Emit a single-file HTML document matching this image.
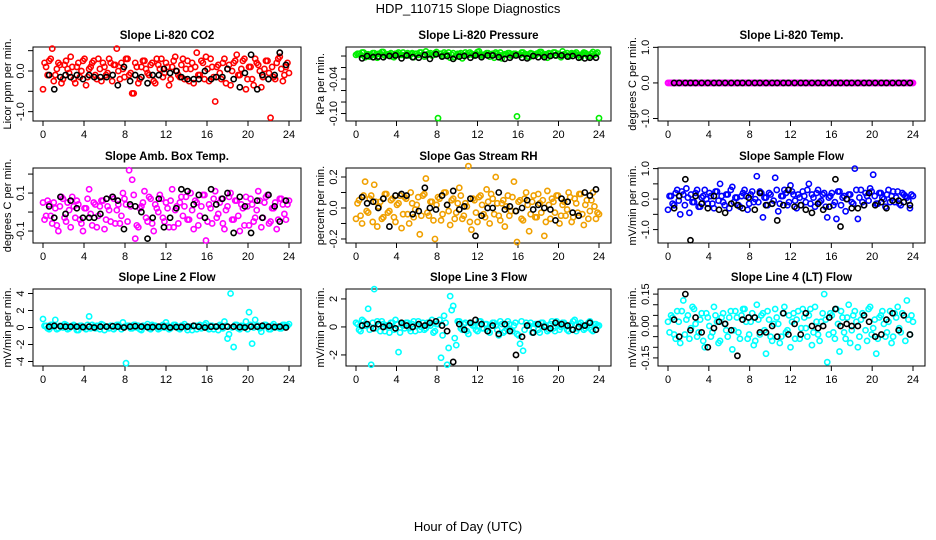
<!DOCTYPE html>
<html><head><meta charset="utf-8">
<style>
html,body{margin:0;padding:0;background:#fff;}
svg{display:block;font-family:"Liberation Sans",Arial,sans-serif;}
</style></head>
<body>
<svg id="chart" width="936" height="540" viewBox="0 0 936 540">
<text x="468" y="13" text-anchor="middle" font-size="13">HDP_110715  Slope Diagnostics</text>
<text x="468" y="531" text-anchor="middle" font-size="13">Hour of Day (UTC)</text>
<g id="panels"></g>
</svg>
<script>
const hoursC=[0,.3,.6,.9,1.2,1.5,1.8,2.1,2.4,2.7,3,3.3,3.6,3.9,4.2,4.5,4.8,5.1,5.4,5.7,6,6.3,6.6,6.9,7.2,7.5,7.8,8.1,8.4,8.7,9,9.3,9.6,9.9,10.2,10.5,10.8,11.1,11.4,11.7,12,12.3,12.6,12.9,13.2,13.5,13.8,14.1,14.4,14.7,15,15.3,15.6,15.9,16.2,16.5,16.8,17.1,17.4,17.7,18,18.3,18.6,18.9,19.2,19.5,19.8,20.1,20.4,20.7,21,21.3,21.6,21.9,22.2,22.5,22.8,23.1,23.4,23.7,24];
const hoursC2=[.15,.45,.75,1.05,1.35,1.65,1.95,2.25,2.55,2.85,3.15,3.45,3.75,4.05,4.35,4.65,4.95,5.25,5.55,5.85,6.15,6.45,6.75,7.05,7.35,7.65,7.95,8.25,8.55,8.85,9.15,9.45,9.75,10.05,10.35,10.65,10.95,11.25,11.55,11.85,12.15,12.45,12.75,13.05,13.35,13.65,13.95,14.25,14.55,14.85,15.15,15.45,15.75,16.05,16.35,16.65,16.95,17.25,17.55,17.85,18.15,18.45,18.75,19.05,19.35,19.65,19.95,20.25,20.55,20.85,21.15,21.45,21.75,22.05,22.35,22.65,22.95,23.25,23.55,23.85];
const hoursK=[0.6,1.1,1.7,2.2,2.7,3.3,3.9,4.5,5.0,5.6,6.2,6.8,7.3,7.9,8.5,9.0,9.6,10.2,10.7,11.3,11.8,12.4,13.0,13.5,14.1,14.7,15.2,15.8,16.4,16.9,17.5,18.0,18.6,19.2,19.7,20.3,20.9,21.4,22.0,22.6,23.1,23.7];
const xTicks=[0,4,8,12,16,20,24];

const co2C=[-.45,.1,.25,.55,-.1,.2,-.3,.15,.05,.35,-.2,.1,-.15,.25,-.35,.05,.2,-.1,.3,-.25,.1,-.05,.2,.15,.55,-.2,.05,.3,-.1,-.55,.2,-.3,.1,.25,-.05,.15,-.25,.3,.05,-.15,.2,-.35,.1,.35,-.1,.15,-.2,.25,.05,-.3,.45,-.1,.2,.35,-.25,.1,-.75,.15,-.2,.3,.05,-.35,.2,.4,-.1,.25,-.45,.1,-.2,.3,.15,-.4,.05,.25,-1.15,-.15,.2,.35,-.25,.1,-.05];
const co2C2=[.2,-.1,.3,-.25,.05,.15,-.2,.25,-.05,.1,-.3,.2,0,.3,-.15,.1,.25,-.2,.05,.2,-.1,.3,-.25,.15,0,.2,-.15,.3,-.05,-.55,.1,-.2,.25,.05,-.1,.2,-.3,.15,.3,-.05,.1,-.2,.25,0,-.15,.3,.05,-.25,.2,.1,-.1,.25,-.2,.05,.3,-.15,.1,-.05,.2,-.3,.15,0,.25,-.1,.05,.3,-.2,.1,-.35,.2,0,-.15,.25,-.05,.1,-.2,.3,.05,-.1,.2];
const co2K=[-.1,-.45,-.15,-.1,-.15,-.1,-.2,-.1,-.15,-.15,-.15,-.1,-.35,.1,-.25,-.1,-.15,-.3,-.1,-.1,.05,-.05,0,-.15,-.2,-.2,-.2,0,-.2,-.15,-.15,.05,-.2,-.4,-.05,.4,-.45,-.1,-.2,-.1,.45,.15];
const presC=[.002,.004,.006,-.002,.003,.001,.005,-.003,.004,.007,.002,.003,-.001,.004,.006,.002,.001,.005,.003,-.002,.004,.006,.002,.008,.003,.001,.005,-.108,.004,.006,.002,-.003,.005,.001,.003,-.004,.006,.002,.004,.001,.007,.003,.002,.005,-.001,.004,.006,.002,-.004,.003,.005,.001,.004,-.105,.002,.006,.003,-.002,.004,.001,.005,.007,.002,-.003,.004,.006,.001,.003,.008,.002,-.001,.005,.004,.002,-.002,.006,.003,.001,.007,.004,-.108];
const presC2=[.004,.002,.006,.003,-.001,.005,.002,.004,.007,.001,.003,.005,-.002,.004,.002,.006,.003,.001,.005,.004,.002,.006,-.001,.003,.005,.002,.007,.004,.001,.003,.006,.002,-.002,.004,.005,.001,.003,.006,.002,.004,.008,.001,.003,.005,.002,-.003,.004,.006,.002,.003,.005,.001,.004,.002,.006,.003,-.001,.005,.002,.004,.007,.001,.003,.005,.002,.006,.004,-.002,.003,.005,.001,.004,.006,.002,.003,.005,-.001,.004,.002,.006];
const presK=[-.004,0,-.002,-.001,-.002,0,.001,-.004,.001,-.002,-.003,.002,-.005,.003,-.001,0,-.005,-.001,0,-.003,.001,-.002,.001,.001,-.002,-.005,-.003,.001,-.003,-.004,0,-.002,-.002,0,.001,.001,-.001,0,-.003,-.004,-.003,-.003];
const tempC=[0,0,0,0,0,0,0,0,0,0,0,0,0,0,0,0,0,0,0,0,0,0,0,0,0,0,0,0,0,0,0,0,0,0,0,0,0,0,0,0,0,0,0,0,0,0,0,0,0,0,0,0,0,0,0,0,0,0,0,0,0,0,0,0,0,0,0,0,0,0,0,0,0,0,0,0,0,0,0,0,0];
const tempC2=[0,0,0,0,0,0,0,0,0,0,0,0,0,0,0,0,0,0,0,0,0,0,0,0,0,0,0,0,0,0,0,0,0,0,0,0,0,0,0,0,0,0,0,0,0,0,0,0,0,0,0,0,0,0,0,0,0,0,0,0,0,0,0,0,0,0,0,0,0,0,0,0,0,0,0,0,0,0,0,0];
const tempK=[0,0,0,0,0,0,0,0,0,0,0,0,0,0,0,0,0,0,0,0,0,0,0,0,0,0,0,0,0,0,0,0,0,0,0,0,0,0,0,0,0,0];
const ambC=[.05,-.02,.04,-.06,.02,-.1,.08,-.03,.05,-.08,.03,.06,-.04,-.1,.02,.12,-.07,.04,-.02,.06,-.09,.03,-.05,.07,.01,-.06,.1,.04,.22,.17,-.14,-.08,.03,.11,-.05,.07,-.1,.02,.09,-.03,.05,-.08,.12,.01,-.06,.08,.03,-.04,.1,-.09,.05,-.02,.09,-.15,.04,-.06,.11,-.01,.07,-.09,.03,.1,-.04,.06,-.1,.02,.08,-.07,.04,-.03,.11,-.08,.05,.09,-.05,.02,-.09,.07,.04,-.04,.06];
const ambC2=[-.04,.06,-.02,.05,-.07,.03,.07,-.05,.01,.08,-.03,.04,-.06,.02,.07,-.01,.05,-.08,.03,.06,-.04,.01,.08,-.06,.04,-.02,.07,-.05,.03,.09,-.07,.02,.05,-.03,.08,-.06,.04,0,.07,-.05,.02,.06,-.08,.03,.05,-.02,.08,-.04,.01,.06,-.07,.03,.09,-.05,.02,.07,-.03,.05,-.06,.01,.08,-.04,.06,-.02,.04,-.07,.03,.07,-.05,.01,.06,-.03,.08,-.06,.02,.05,-.04,.07,-.01,.04];
const ambK=[.03,-.03,.08,-.01,.06,.02,-.03,-.03,-.03,-.01,.07,.08,.06,-.09,.04,.03,0,-.14,-.03,.07,-.08,-.03,.02,.12,.11,.04,.09,-.03,.12,.04,.07,.1,-.11,.08,.03,-.11,.06,-.03,.09,.03,-.05,.06];
const rhC=[-.07,.05,-.1,.17,-.03,.08,.15,-.12,.04,-.06,.09,-.02,.06,-.09,.03,-.13,.07,-.04,.1,-.06,.02,-.17,.08,.19,-.05,.04,-.2,.07,-.08,.1,.02,-.11,.06,-.03,.13,-.07,.03,.27,-.14,.05,-.09,.08,-.04,.12,-.1,.06,.2,-.05,.03,-.12,.08,-.02,.17,-.22,.05,-.08,.1,-.15,.04,-.06,.09,-.03,-.18,.11,-.07,.04,.08,-.1,.02,-.05,.1,-.09,.06,-.03,.09,-.11,.05,-.02,.1,-.07,-.04];
const rhC2=[.03,-.05,.08,-.02,.06,-.09,.04,.01,-.07,.09,-.03,.05,-.06,.02,.08,-.04,.06,-.1,.03,-.01,.07,-.05,.09,-.03,.04,-.08,.02,.06,-.04,.1,-.02,.05,-.07,.03,.08,-.05,.01,-.09,.06,-.03,.07,.02,-.06,.04,.09,-.04,.03,-.08,.05,.01,-.05,.07,-.02,.04,-.07,.06,.02,-.04,.08,-.06,.03,.05,-.09,.02,.06,-.03,.08,-.05,.04,-.01,.07,-.06,.03,.09,-.04,.02,-.07,.05,.01,-.03];
const rhK=[.07,.03,.04,0,.06,-.12,.08,.09,.08,-.04,-.02,.13,0,-.01,.08,.02,.11,-.01,.01,.06,-.18,-.05,0,0,.1,-.01,.01,-.02,0,.05,-.01,.02,0,-.01,-.08,.06,.04,-.03,-.05,.1,.08,.12];
const sampC=[-.35,.1,-.2,.3,-.5,.15,.35,-.45,-.1,.2,-.25,.05,.3,-.15,.1,-.3,.25,.5,-.1,.15,-.3,.4,.05,-.2,.1,.3,-.35,.15,-.1,.75,.25,-.6,.05,.2,-.15,.7,-.4,.1,.3,-.2,.45,.15,-.3,.05,.25,-.1,.5,.15,-.25,.3,-.05,.2,-.6,.1,-.2,-.65,.25,.05,-.4,.15,-.1,1.0,-.65,.3,-.2,.1,.35,.8,-.15,.2,.05,-.25,.3,.1,-.1,.25,-.2,.15,.05,-.3,.1];
const sampC2=[.1,-.15,.2,-.05,.25,-.2,.05,.15,-.1,.3,-.25,.1,0,.2,-.15,.25,-.05,.1,-.2,.15,.3,-.1,.05,-.25,.2,.1,-.15,.25,0,-.1,.2,.05,-.2,.15,-.05,.3,-.15,.1,.2,-.1,.25,-.05,.15,-.2,.1,.3,-.15,.05,.2,-.1,.15,-.25,.05,.2,-.1,.25,-.2,.1,0,.15,-.15,.3,.05,-.1,.2,-.05,.25,.1,-.15,.2,0,.15,-.1,.25,.05,-.15,.2,.1,-.05,.15];
const sampK=[-.3,.1,.65,-1.35,.1,-.15,-.3,.1,-.35,-.45,-.15,-.2,-.3,.05,-.35,.2,-.2,-.15,-.7,-.2,.3,-.25,-.2,-.35,-.45,-.15,-.35,-.25,.65,-.9,0,-.3,-.3,-.2,.2,-.2,-.1,-.3,-.05,-.05,-.1,-.2];
const l2C=[1.0,.2,-.2,.3,.9,-.1,.2,.4,-.2,.1,.3,-.3,.2,.1,-.2,1.3,.3,-.1,.2,.4,-.3,.1,.2,-.2,.3,.1,.6,-4.2,.2,-.1,.3,.2,-.3,.1,.4,-.2,.2,.1,-.1,.3,.6,-.2,.1,.3,-.1,.2,.4,-.3,.1,.2,-.2,.3,.1,.5,-.2,.2,.1,-.3,.2,.7,-1.3,4.0,-2.3,.3,-.2,.1,.7,1.8,-1.9,.9,.2,-.5,.3,.1,-.2,.4,.1,-.1,.3,.2,.4];
const l2C2=[.2,-.1,.3,.1,-.2,.2,0,.3,-.1,.2,.1,-.3,.2,0,.3,-.1,.1,.2,-.2,.3,.1,-.1,.2,0,.3,-.2,.1,.2,-.1,.3,0,-.2,.2,.1,-.1,.3,.2,-.2,.1,0,.2,-.1,.3,.1,-.2,.2,0,.1,-.3,.2,.1,-.1,.3,0,.2,-.2,.1,.3,-.1,.2,-.8,0,.3,-.1,.2,.1,-.2,.3,0,.2,-.1,.1,.3,-.2,.2,0,.1,-.1,.3,.2];
const l2K=[.1,.2,.15,.1,.1,.1,.05,.1,0,.1,.1,.15,.1,0,.1,.15,.1,.05,.05,.1,.1,0,.05,.05,.1,.2,.1,0,.1,.1,.1,.1,.1,.05,0,.1,.1,.2,.1,.05,.1,0];
const l3C=[.3,-.2,.5,.1,1.3,-2.7,2.7,.4,-.3,.2,.1,-.4,.3,.5,-1.8,.2,-.1,.3,-.3,.4,.1,-.2,.3,-.1,.2,.5,-.3,.2,-2.2,.8,-2.7,2.2,1.5,-1.3,.4,-.2,.3,-.5,.2,.1,-.3,.4,-.1,.2,-.4,.3,.1,-.6,.2,-.3,.4,-.2,.1,-.5,-1.2,-1.7,.3,.1,-.4,.2,-.2,.3,.1,-.3,.2,-.1,.4,-.2,.3,.1,-.3,.2,.5,-.1,.3,-.2,.1,.4,-.3,.2,.1];
const l3C2=[.2,-.3,.4,.1,-.2,.3,-.1,.2,.4,-.3,.1,.3,-.2,.2,-.4,.1,.3,-.1,.2,-.3,.4,0,-.2,.3,.1,-.4,.2,.5,-.6,.3,-1.5,1.2,-.8,.4,-.1,.2,-.3,.3,.1,-.2,.4,-.1,.2,-.3,.1,.3,-.2,.4,-.4,.1,.2,-.3,.3,-.6,.4,-.2,.1,.3,-.1,.2,-.4,.3,.1,-.2,.4,-.3,.2,0,.3,-.2,.1,.4,-.3,.2,.1,-.1,.3,-.2,.2,.1];
const l3K=[.1,.2,-.1,.2,0,.1,-.1,.3,.1,0,.2,.1,.3,.4,.1,-.3,-2.5,.2,-.2,.3,.5,.2,-.3,.1,-.5,.2,-.3,-2.0,-.7,.1,-.4,.2,0,-.1,.3,.2,.1,-.2,0,.1,.3,-.2];
const l4C=[.02,.05,-.04,.07,-.08,.12,.03,-.06,.09,.01,-.03,.06,-.1,.04,-.05,.09,.02,-.07,.06,-.02,.04,-.11,.07,-.03,.05,.08,-.06,.02,-.09,.1,-.04,.06,-.13,.03,-.07,.08,.01,-.05,.09,-.02,-.1,.06,.03,-.06,.08,-.01,.05,-.09,.09,-.04,.02,.15,-.17,.06,-.03,.08,-.12,.04,-.06,.1,-.02,.07,-.1,.03,.05,-.07,.09,-.01,-.13,.04,.07,-.05,.02,-.08,.06,.09,-.03,.05,.12,-.04,.02];
const l4C2=[-.03,.04,-.06,.02,.07,-.04,.05,-.01,.08,-.05,.03,-.07,.06,0,-.03,.05,-.08,.04,.01,-.05,.07,-.02,.04,-.06,.08,.02,-.04,.06,-.07,.03,.05,-.02,.07,-.05,.01,.04,-.08,.06,-.03,.05,.02,-.06,.07,-.01,.04,-.05,.08,-.03,.02,-.07,.06,.03,-.04,.05,-.06,.01,.07,-.03,.04,-.08,.05,.02,-.05,.06,-.02,.08,-.04,.03,-.06,.05,.01,-.03,.07,-.05,.04,-.01,.06,-.07,.03,.05];
const l4K=[.03,-.05,.15,-.02,.04,-.03,-.1,-.01,.02,.01,-.02,-.14,.03,.04,.04,-.03,-.03,0,-.05,.06,-.04,.01,-.04,.06,0,-.01,0,.04,.08,0,.01,0,0,.05,.02,-.05,-.04,.03,.06,-.02,.05,-.04];

const titles=["Slope Li-820 CO2","Slope Li-820 Pressure","Slope Li-820 Temp.","Slope Amb. Box Temp.","Slope Gas Stream RH","Slope Sample Flow","Slope Line 2 Flow","Slope Line 3 Flow","Slope Line 4 (LT) Flow"];
const yLabels=["Licor ppm per min.","kPa per min.","degrees C per min.","degrees C per min.","percent per min.","mV/min per min.","mV/min per min.","mV/min per min.","mV/min per min."];
const yTickVals=[[-1,-0.5,0,0.5],[-0.1,-0.08,-0.06,-0.04,-0.02,0],[-1,0,1],[-0.1,0,0.1,0.2],[-0.2,-0.1,0,0.1,0.2],[-1,-0.5,0,0.5,1],[-4,-2,0,2,4],[-2,0,2],[-0.15,-0.1,-0.05,0,0.05,0.1,0.15]];
const yTickLabels=[["-1.0","","0.0",""],["-0.10","","","-0.04","",""],["-1.0","0.0","1.0"],["-0.1","","0.1",""],["-0.2","","0.0","","0.2"],["-1.0","","0.0","","1.0"],["-4","-2","0","2","4"],["-2","0","2"],["-0.15","","","0.00","","","0.15"]];
const colorVals=[co2C,presC,tempC,ambC,rhC,sampC,l2C,l3C,l4C];
const colorVals2=[co2C2,presC2,tempC2,ambC2,rhC2,sampC2,l2C2,l3C2,l4C2];
const blackVals=[co2K,presK,tempK,ambK,rhK,sampK,l2K,l3K,l4K];

// layout (not data)
const colors=["#ff0000","#00ee00","#ff00ff","#ff00ff","#f0a000","#0000ff","#00ffff","#00ffff","#00ffff"];
const yLims=[[-1.23,0.59],[-0.113,0.0157],[-1.07,1.01],[-0.163,0.232],[-0.226,0.258],[-1.44,1.02],[-4.53,4.53],[-2.79,2.71],[-0.188,0.174]];
const colX0=[43,356,668], colX24=[289,599,913], rowTop=[47,168,289], rowBot=[121,243,366];

const NS="http://www.w3.org/2000/svg";
const root=document.getElementById('panels');
function mk(tag,attrs,parent){const e=document.createElementNS(NS,tag);for(const k in attrs)e.setAttribute(k,attrs[k]);parent.appendChild(e);return e;}

for(let p=0;p<9;p++){
  const c=p%3,r=Math.floor(p/3);
  const x0=colX0[c],x24=colX24[c],top=rowTop[r],bot=rowBot[r];
  const left=x0-10,right=x24+12;
  const [ymin,ymax]=yLims[p];
  const xs=h=>x0+(x24-x0)*h/24;
  const ys=v=>bot-(v-ymin)/(ymax-ymin)*(bot-top);
  const g=mk('g',{},root);
  
  
  const t=mk('text',{x:(left+right)/2,y:top-8,'text-anchor':'middle','font-size':'11.5','font-weight':'bold'},g);
  t.textContent=titles[p];
  
  
  const box=mk('rect',{x:left,y:top,width:right-left,height:bot-top,fill:'none',stroke:'#000','stroke-width':1},g);
  
  
  const xa=mk('g',{},g);
  
  
  mk('line',{x1:xs(xTicks[0]),x2:xs(xTicks[xTicks.length-1]),y1:bot,y2:bot,stroke:'#000'},xa);
  xTicks.forEach(v=>{
    mk('line',{x1:xs(v),x2:xs(v),y1:bot,y2:bot+5,stroke:'#000'},xa);
    const tl=mk('text',{x:xs(v),y:bot+17,'text-anchor':'middle','font-size':'11'},xa);
    tl.textContent=v;
    
    
  });
  const ya=mk('g',{},g);
  
  
  const tv=yTickVals[p];
  mk('line',{x1:left,x2:left,y1:ys(tv[0]),y2:ys(tv[tv.length-1]),stroke:'#000'},ya);
  tv.forEach((v,i)=>{
    mk('line',{x1:left,x2:left-5,y1:ys(v),y2:ys(v),stroke:'#000'},ya);
    if(yTickLabels[p][i]){
      const tl=mk('text',{x:left-9,y:ys(v),'text-anchor':'middle','font-size':'11',transform:'rotate(-90 '+(left-9)+' '+ys(v)+')'},ya);
      tl.textContent=yTickLabels[p][i];
      
      
    }
  });
  const yl=mk('text',{x:left-22,y:(top+bot)/2,'text-anchor':'middle','font-size':'11',transform:'rotate(-90 '+(left-22)+' '+((top+bot)/2)+')'},g);
  yl.textContent=yLabels[p];
  
  
  const sc=mk('g',{fill:'none',stroke:colors[p],'stroke-width':1.6},g);
  
  
  colorVals[p].forEach((v,i)=>{
    if(i>=hoursC.length)return;
    const pt=mk('circle',{cx:xs(hoursC[i]),cy:ys(v),r:2.6},sc);
    
    
  });
  colorVals2[p].forEach((v,i)=>{
    if(i>=hoursC2.length)return;
    const pt=mk('circle',{cx:xs(hoursC2[i]),cy:ys(v),r:2.6},sc);
    
    
  });
  const sk=mk('g',{fill:'none',stroke:'#000','stroke-width':1.6},g);
  
  
  blackVals[p].forEach((v,i)=>{
    if(i>=hoursK.length)return;
    const pt=mk('circle',{cx:xs(hoursK[i]),cy:ys(v),r:2.6},sk);
    
    
  });
}
</script>
</body></html>
